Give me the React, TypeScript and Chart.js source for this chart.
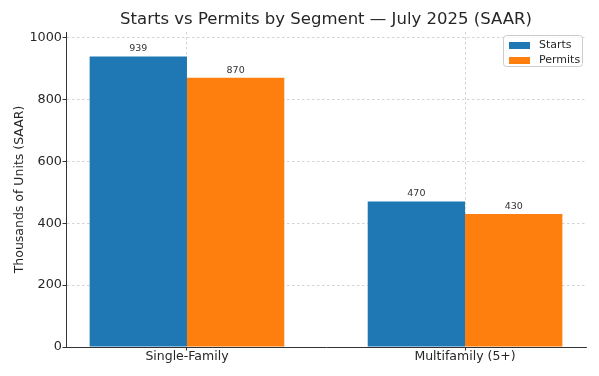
import React, { useEffect, useRef } from 'react';
import { Chart, registerables } from 'chart.js';

Chart.register(...registerables);

const categories = ['Single-Family', 'Multifamily (5+)'];
const seriesLabels = ['Starts', 'Permits'];
const startsValues = [939, 470];
const permitsValues = [870, 430];
const seriesColors = ['#1f77b4', '#ff7f0e'];
const yTickValues = [0, 200, 400, 600, 800, 1000];
const yAxisMax = 1018;
const xAxisMin = -0.435;
const xAxisMax = 1.435;
const chartTitle = 'Starts vs Permits by Segment \u2014 July 2025 (SAAR)';
const yAxisTitle = 'Thousands of Units (SAAR)';

const FONT = "'DejaVu Sans', sans-serif";
const TEXT = '#262626';
const GRID = 'rgba(176,176,176,0.7)';

const titlePlugin = {
  id: 'areaTitle',
  afterDraw(chart: any) {
    const ctx = chart.ctx;
    const area = chart.chartArea;
    ctx.save();
    ctx.font = `16.5px ${FONT}`;
    ctx.fillStyle = TEXT;
    ctx.textAlign = 'center';
    ctx.textBaseline = 'middle';
    ctx.fillText(chartTitle, (area.left + area.right) / 2, area.top - 12);
    ctx.restore();
  },
};

const valueLabelPlugin = {
  id: 'valueLabels',
  afterDatasetsDraw(chart: any) {
    const ctx = chart.ctx;
    ctx.save();
    ctx.font = `9.5px ${FONT}`;
    ctx.fillStyle = '#333333';
    ctx.textAlign = 'center';
    ctx.textBaseline = 'bottom';
    chart.data.datasets.forEach((ds: any, di: number) => {
      const meta = chart.getDatasetMeta(di);
      meta.data.forEach((bar: any, i: number) => {
        const v = ds.data[i].y;
        ctx.fillText(String(v), bar.x, bar.y - 3);
      });
    });
    ctx.restore();
  },
};

const boxLegendPlugin = {
  id: 'boxLegend',
  afterDraw(chart: any) {
    const ctx = chart.ctx;
    const area = chart.chartArea;
    const w = 79;
    const h = 31;
    const x = area.right - 4 - w;
    const y = area.top + 3;
    ctx.save();
    ctx.beginPath();
    if ((ctx as any).roundRect) {
      (ctx as any).roundRect(x + 0.5, y + 0.5, w, h, 3);
    } else {
      ctx.rect(x + 0.5, y + 0.5, w, h);
    }
    ctx.fillStyle = 'rgba(255,255,255,0.8)';
    ctx.fill();
    ctx.strokeStyle = '#cccccc';
    ctx.lineWidth = 1;
    ctx.stroke();
    ctx.font = `11px ${FONT}`;
    ctx.textAlign = 'left';
    ctx.textBaseline = 'middle';
    chart.data.datasets.forEach((ds: any, i: number) => {
      const cy = y + 10.5 + i * 15;
      ctx.fillStyle = ds.backgroundColor;
      ctx.fillRect(x + 6, cy - 3.5, 21, 7);
      ctx.fillStyle = TEXT;
      ctx.fillText(ds.label, x + 36, cy);
    });
    ctx.restore();
  },
};

export default function App() {
  const canvasRef = useRef<HTMLCanvasElement | null>(null);

  useEffect(() => {
    if (!canvasRef.current) return;
    const seriesValues = [startsValues, permitsValues];
    const gridOpts = {
      color: GRID,
      lineWidth: 0.8,
      offset: false,
      drawTicks: true,
      tickLength: 3.5,
      tickColor: '#333333',
      tickWidth: 1,
      tickBorderDash: [],
    };
    const chart = new Chart(canvasRef.current, {
      type: 'bar',
      data: {
        datasets: seriesLabels.map((label, si) => ({
          label,
          data: categories.map((_, ci) => ({ x: ci, y: seriesValues[si][ci] })),
          backgroundColor: seriesColors[si],
          borderWidth: 0,
          categoryPercentage: 0.7,
          barPercentage: 1,
        })),
      },
      options: {
        responsive: false,
        animation: false,
        layout: { padding: { left: 0, right: 13, top: 32, bottom: 0 } },
        plugins: {
          legend: { display: false },
          tooltip: { enabled: false },
          title: { display: false },
        },
        scales: {
          x: {
            type: 'linear',
            min: xAxisMin,
            max: xAxisMax,
            offset: false,
            afterBuildTicks: (scale: any) => {
              scale.ticks = categories.map((_, i) => ({ value: i }));
            },
            afterFit: (scale: any) => {
              scale.height = 29;
            },
            ticks: {
              autoSkip: false,
              maxRotation: 0,
              padding: 0,
              color: TEXT,
              font: { family: FONT, size: 12.5, lineHeight: 1 },
              callback: (v: any) => categories[Math.round(Number(v))] ?? '',
            },
            grid: gridOpts,
            border: { display: true, color: '#333333', width: 1, dash: [2.5, 2.5] },
          },
          y: {
            type: 'linear',
            min: 0,
            max: yAxisMax,
            afterBuildTicks: (scale: any) => {
              scale.ticks = yTickValues.map((v) => ({ value: v }));
            },
            afterFit: (scale: any) => {
              scale.width = 66;
            },
            ticks: {
              padding: 0.5,
              color: TEXT,
              font: { family: FONT, size: 12.8 },
              callback: (v: any) => String(v),
            },
            grid: gridOpts,
            border: { display: true, color: '#333333', width: 1, dash: [2.5, 2.5] },
            title: {
              display: true,
              text: yAxisTitle,
              color: TEXT,
              font: { family: FONT, size: 12.5, lineHeight: 1.2 },
              padding: { top: 12, bottom: 0 },
            },
          },
        },
      },
      plugins: [titlePlugin, valueLabelPlugin, boxLegendPlugin],
    } as any);
    return () => chart.destroy();
  }, []);

  return (
    <div style={{ position: 'fixed', left: 0, top: 0, width: 599, height: 376, background: '#ffffff' }}>
      <canvas ref={canvasRef} width={599} height={376} style={{ display: 'block' }} />
    </div>
  );
}
